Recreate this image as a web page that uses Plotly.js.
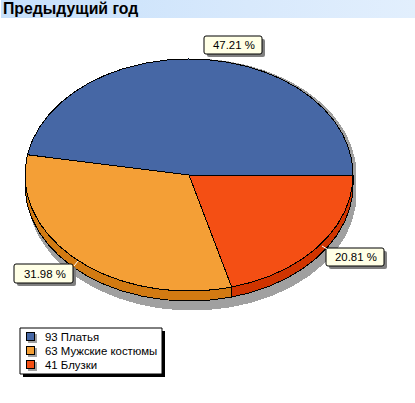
<!DOCTYPE html>
<html><head><meta charset="utf-8">
<script src="https://cdn.plot.ly/plotly-3.0.1.min.js"></script>
<style>
html,body{margin:0;padding:0;background:#fff;overflow:hidden}
#bar{position:absolute;left:1px;top:0;width:414px;height:18px;background:linear-gradient(90deg,#c6e0fb,#d8e9fc 60%,#e2effd)}
#c{position:absolute;left:0;top:0;width:415px;height:403px}
.scatterlayer path.js-line{shape-rendering:crispEdges}
.scatterlayer path.point{stroke-linejoin:miter;shape-rendering:crispEdges}
</style></head><body>
<div id="bar"></div><div id="c"></div>
<script>
var chartTitle = "Предыдущий год";
var categories = ["Платья", "Мужские костюмы", "Блузки"];
var values = [93, 63, 41];
var topColors = ["#4667a5", "#f49f36", "#f44f14"];
var sideColors = ["#2f4a80", "#d27a12", "#d03400"];

var cx = 189, cy = 175, rx = 164, ry = 116, depth = 10;
var total = values.reduce(function(a,b){return a+b;},0);
function px(d){return cx + rx*Math.cos(d*Math.PI/180);}
function py(d,o){return cy + (o||0) - ry*Math.sin(d*Math.PI/180);}
var traces = [];
function poly(xs,ys,fill,line){
  traces.push({type:'scatter',mode:'lines',x:xs,y:ys,fill:'toself',fillcolor:fill,
    line:{color:line||fill,width:1},hoverinfo:'skip',showlegend:false});
}
// shadow
(function(){var xs=[],ys=[];
  for(var d=0;d<=180;d+=2){xs.push(px(d)+3);ys.push(py(d,0));}
  for(d=180;d<=360;d+=2){xs.push(px(d)+3);ys.push(py(d,depth+9));}
  poly(xs,ys,'#a0a0a0');})();
// slices
var start=0, angles=[];
values.forEach(function(v){var e=start+v/total*360;angles.push([start,e]);start=e;});
// sides
angles.forEach(function(a,i){
  var s=Math.max(a[0],180), e=Math.max(a[1],180);
  if(e<=s) return;
  var xs=[],ys=[],d;
  for(d=s;d<e;d+=1){xs.push(px(d));ys.push(py(d));}
  xs.push(px(e));ys.push(py(e));
  xs.push(px(e));ys.push(py(e,depth));
  for(d=e;d>s;d-=1){xs.push(px(d));ys.push(py(d,depth));}
  xs.push(px(s));ys.push(py(s,depth));xs.push(xs[0]);ys.push(ys[0]);
  poly(xs,ys,sideColors[i],'#000');
});
// tops
angles.forEach(function(a,i){
  var xs=[cx],ys=[cy],d;
  for(d=a[0];d<a[1];d+=1){xs.push(px(d));ys.push(py(d));}
  xs.push(px(a[1]));ys.push(py(a[1]));xs.push(cx);ys.push(cy);
  poly(xs,ys,topColors[i],'#000');
});
// legend swatches
var lx=30, ly=[336.5,350.5,364.5];
traces.push({type:'scatter',mode:'markers',x:ly.map(function(){return lx+2;}),y:ly.map(function(y){return y+2;}),
  marker:{symbol:'square',size:9,color:'#a0a0a0',line:{width:0}},hoverinfo:'skip',showlegend:false});
traces.push({type:'scatter',mode:'markers',x:ly.map(function(){return lx;}),y:ly,
  marker:{symbol:'square',size:8,color:topColors,line:{color:'#000',width:1}},hoverinfo:'skip',showlegend:false});

var font={family:'"Liberation Sans",Arial,sans-serif',size:11.4,color:'#000'};
var labelBoxes=[[204,36,262,54],[14,264,73,283],[326,248,384,266]];
var shapes=[], ann=[];
function rounded(b,o){
  var r=2,x0=b[0]+o,y0=b[1]+o,x1=b[2]+o,y1=b[3]+o;
  return 'M'+(x0+r)+','+y0+'L'+(x1-r)+','+y0+'Q'+x1+','+y0+' '+x1+','+(y0+r)+'L'+x1+','+(y1-r)+'Q'+x1+','+y1+' '+(x1-r)+','+y1+
    'L'+(x0+r)+','+y1+'Q'+x0+','+y1+' '+x0+','+(y1-r)+'L'+x0+','+(y0+r)+'Q'+x0+','+y0+' '+(x0+r)+','+y0+'Z';
}
// label leader ticks
var leaders=[[202,59,203,55],[78,261,74,266],[322,246,327,249]];
values.forEach(function(v,i){
  var b=labelBoxes[i];
  shapes.push({type:'path',path:rounded(b,3),fillcolor:'#808080',line:{width:0},layer:'above'});
  shapes.push({type:'path',path:rounded(b,0),fillcolor:'#ffffe6',line:{color:'#000',width:1},layer:'above'});
  shapes.push({type:'line',x0:leaders[i][0],y0:leaders[i][1],x1:leaders[i][2],y1:leaders[i][3],line:{color:'#fff',width:1},layer:'above'});
  ann.push({x:(b[0]+b[2])/2+1,y:(b[1]+b[3])/2,text:(v/total*100).toFixed(2)+' %',showarrow:false,font:font,xanchor:'center',yanchor:'middle'});
});
// legend box
shapes.push({type:'rect',x0:23,y0:331,x1:165,y1:377,fillcolor:'#000',line:{width:0},layer:'below'});
shapes.push({type:'rect',x0:20,y0:328,x1:162,y1:374,fillcolor:'#fff',line:{color:'#000',width:1},layer:'below'});
categories.forEach(function(c,i){
  ann.push({x:43,y:ly[i],text:values[i]+' '+c,showarrow:false,font:font,xanchor:'left',yanchor:'middle'});
});
ann.push({x:1,y:8.5,text:chartTitle,showarrow:false,xanchor:'left',yanchor:'middle',
  font:{family:'"Liberation Sans",Arial,sans-serif',size:15.8,color:'#000',weight:700}});

Plotly.newPlot('c',traces,{
  width:415,height:403,margin:{l:0,r:0,t:0,b:0},paper_bgcolor:'rgba(0,0,0,0)',plot_bgcolor:'rgba(0,0,0,0)',
  xaxis:{range:[0,415],visible:false,fixedrange:true},yaxis:{range:[403,0],visible:false,fixedrange:true},
  shapes:shapes,annotations:ann,showlegend:false
},{displayModeBar:false,staticPlot:true});
</script></body></html>
